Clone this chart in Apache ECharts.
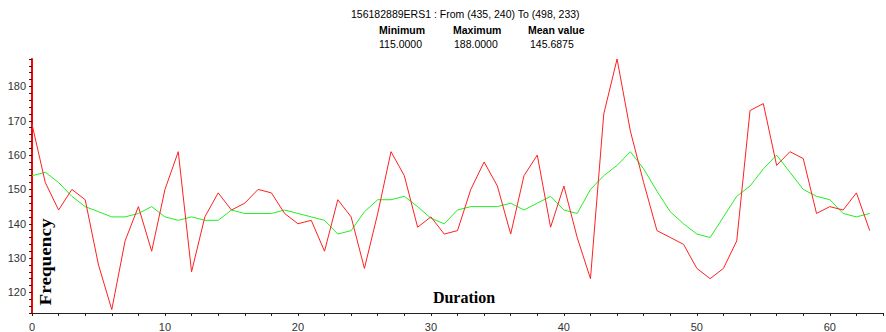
<!DOCTYPE html>
<html>
<head>
<meta charset="utf-8">
<script src="https://cdn.jsdelivr.net/npm/echarts@6/dist/echarts.min.js"></script>
<style>html,body{margin:0;padding:0;background:#fff;}#c{width:886px;height:332px;}</style>
</head>
<body>
<div id="c"></div>
<script>
var durations = [];
for (var i = 0; i < 64; i++) durations.push(i);
var frequency = [169,152,144,150,147,128,115,135,145,132,
  150,161,126,142,149,144,146,150,149,143,
  140,141,132,147,142,127,143,161,154,139,
  142,137,138,150,158,151,137,154,160,139,
  151,136,124,172,188,167,152,138,136,134,
  127,124,127,135,173,175,157,161,159,143,
  145,144,149,138];
var smoothed = [154,155,152,148,145,143.5,142,142,143,145,
  142,141,142,141,141,144,143,143,143,144,
  143,142,141,137,138,143.5,147,147,148,145,
  141.6,140,144,145,145,145,146,144,146,148,
  144,143,150,154,157,161,156,149.5,143.5,140,
  137,136,142,148,151,156,160,155,150,148,
  147,143,142,143];
var titleText = '156182889ERS1 : From (435, 240) To (498, 233)';
var statHeaders = ['Minimum', 'Maximum', 'Mean value'];
var statValues = ['115.0000', '188.0000', '145.6875'];
var xName = 'Duration';
var yName = 'Frequency';

function pairs(vals) { return vals.map(function (v, i) { return [durations[i], v]; }); }

var chart = echarts.init(document.getElementById('c'), null, {renderer: 'svg'});
var font = 'Arial, "Liberation Sans", sans-serif';
var serif = '"Times New Roman", "Liberation Serif", serif';
var headLeft = [379, 453, 528];
var valLeft = [379, 454, 530];
var titles = [{text: titleText, left: 351, top: 8, padding: 0,
  textStyle: {fontFamily: font, fontSize: 10.5, fontWeight: 'normal', color: '#000'}}];
statHeaders.forEach(function (t, i) {
  titles.push({text: t, left: headLeft[i], top: 24, padding: 0,
    textStyle: {fontFamily: font, fontSize: 10.5, fontWeight: 'bold', color: '#000'}});
});
statValues.forEach(function (t, i) {
  titles.push({text: t, left: valLeft[i], top: 38, padding: 0,
    textStyle: {fontFamily: font, fontSize: 10.5, fontWeight: 'normal', color: '#000'}});
});

chart.setOption({
  animation: false,
  backgroundColor: '#fff',
  title: titles,
  grid: {left: 32, right: 1, top: 59, bottom: 19, containLabel: false},
  xAxis: {
    type: 'value', min: 0, max: 64, interval: 2,
    axisLine: {show: true, lineStyle: {color: '#222', width: 1}},
    axisTick: {show: true, length: 3, lineStyle: {color: '#222'}},
    axisLabel: {margin: 8, fontFamily: font, fontSize: 11, color: '#333',
      formatter: function (v) { return v % 10 === 0 ? String(v) : ''; }},
    splitLine: {show: false}
  },
  yAxis: {
    type: 'value', min: 114, max: 188, interval: 2,
    axisLine: {show: true, lineStyle: {color: '#ff0000', width: 2}},
    axisTick: {show: true, length: 3, lineStyle: {color: '#222'}},
    axisLabel: {margin: 6, fontFamily: font, fontSize: 11, color: '#333',
      formatter: function (v) { return v % 10 === 0 ? String(v) : ''; }},
    splitLine: {show: false}
  },
  graphic: [
    {type: 'text', x: 464, y: 297, style: {text: xName, font: 'bold 16px ' + serif,
      fill: '#000', textAlign: 'center', textVerticalAlign: 'middle'}},
    {type: 'text', x: 46, y: 262, rotation: Math.PI / 2, scaleX: 1.2,
      style: {text: yName, font: 'bold 16px ' + serif, fill: '#000',
        textAlign: 'center', textVerticalAlign: 'middle'}}
  ],
  series: [
    {type: 'line', data: pairs(smoothed), showSymbol: false, symbol: 'none',
      lineStyle: {color: '#22ee22', width: 1}, z: 2},
    {type: 'line', data: pairs(frequency), showSymbol: false, symbol: 'none',
      lineStyle: {color: '#ff2020', width: 1}, z: 3}
  ]
});
</script>
</body>
</html>
